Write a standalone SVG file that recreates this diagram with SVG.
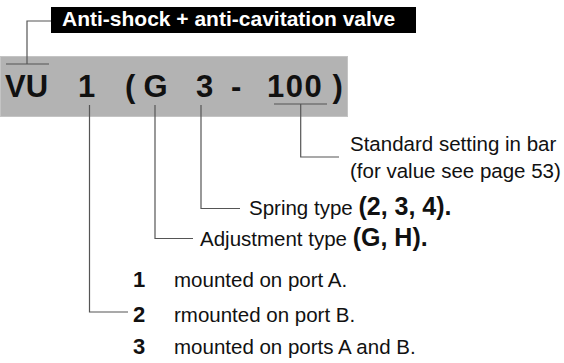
<svg xmlns="http://www.w3.org/2000/svg" width="564" height="363" viewBox="0 0 564 363">
<style>
.lead{fill:none;stroke:#555;stroke-width:1.2}
.big{font-family:"Liberation Sans",Arial,sans-serif;font-weight:bold;font-size:31px;fill:#111}
.reg{font-family:"Liberation Sans",Arial,sans-serif;font-size:20.5px;fill:#111}
.bold{font-family:"Liberation Sans",Arial,sans-serif;font-weight:bold;fill:#111}
.num{font-family:"Liberation Sans",Arial,sans-serif;font-weight:bold;font-size:22px;fill:#111}
</style>
<rect width="564" height="363" fill="#fff"/>
<g id="title">
<rect x="51" y="7" width="365" height="26" fill="#000"/>
<text x="62" y="26" font-family="Liberation Sans,Arial,sans-serif" font-weight="bold" font-size="21" fill="#fff">Anti-shock + anti-cavitation valve</text>
</g>
<g id="code">
<rect x="0.5" y="56.5" width="347" height="60" fill="#b3b3b3" stroke="#c4c4c4"/>
<text class="big" x="5" y="97">VU</text>
<text class="big" x="78" y="97">1</text>
<text class="big" x="125" y="97">(</text>
<text class="big" x="143.5" y="97">G</text>
<text class="big" x="196" y="97">3</text>
<text class="big" x="231" y="97">-</text>
<text class="big" x="267" y="97" letter-spacing="1.5">100</text>
<text class="big" x="332.5" y="97">)</text>
</g>
<g id="connectors">
<polyline class="lead" points="51,21 27,21 27,64"/>
<line class="lead" x1="6" y1="64" x2="49" y2="64"/>
<line class="lead" x1="274" y1="104" x2="327" y2="104"/>
<polyline class="lead" points="300.7,104 300.7,157 339,157"/>
<polyline class="lead" points="201,105 201,208.5 240,208.5"/>
<polyline class="lead" points="155,105 155,238.5 193,238.5"/>
<polyline class="lead" points="89.5,105 89.5,312 128,312"/>
</g>
<g id="setting">
<text class="reg" x="350" y="151">Standard setting in bar</text>
<text class="reg" x="350" y="177.5">(for value see page 53)</text>
</g>
<g id="spring">
<text class="reg" x="249" y="215">Spring type <tspan class="bold" font-size="25">(2, 3, 4).</tspan></text>
</g>
<g id="adjustment">
<text class="reg" x="200" y="246">Adjustment type <tspan class="bold" font-size="25">(G, H).</tspan></text>
</g>
<g id="mounting">
<text class="num" x="133" y="287">1</text>
<text class="reg" x="174" y="287">mounted on port A.</text>
<text class="num" x="133" y="321.5">2</text>
<text class="reg" x="174" y="321.5">rmounted on port B.</text>
<text class="num" x="133" y="354">3</text>
<text class="reg" x="174" y="354">mounted on ports A and B.</text>
</g>
</svg>
